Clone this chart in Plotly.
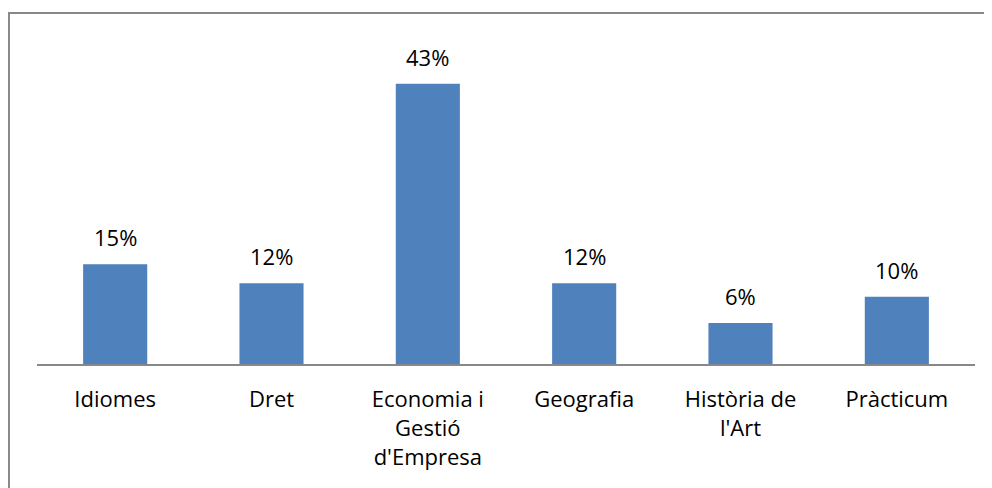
import plotly.graph_objects as go

categories = ["Idiomes", "Dret", "Economia i<br>Gestió<br>d'Empresa", "Geografia", "Història de<br>l'Art", "Pràcticum"]
shares = [0.153, 0.124, 0.43, 0.124, 0.063, 0.103]

BAR = "#4F81BD"
FONT = "'Open Sans', sans-serif"
FS = 22

fig = go.Figure(go.Bar(
    x=categories, y=shares,
    marker=dict(color=BAR, line=dict(width=0)),
    hoverinfo="x+y",
))

annotations = [
    dict(x=c, y=v, xref="x", yref="y", text=f"{round(v * 100)}%",
         showarrow=False, yanchor="bottom", yshift=10,
         font=dict(family=FONT, size=FS, color="#000000"))
    for c, v in zip(categories, shares)
]

fig.update_layout(
    width=992, height=488,
    margin=dict(l=29, r=25, t=30, b=132),
    paper_bgcolor="white", plot_bgcolor="white",
    bargap=0.59, showlegend=False,
    font=dict(family=FONT, size=FS, color="#000000"),
    xaxis=dict(showgrid=False, showline=True, linecolor="#888888", linewidth=2,
               ticks="", ticklabelstandoff=15, tickfont=dict(size=FS, family=FONT)),
    yaxis=dict(range=[0, 0.5], visible=False, showgrid=False),
    annotations=annotations,
    shapes=[dict(type="rect", xref="paper", yref="paper",
                 x0=-0.0299, x1=1.1, y0=-0.5, y1=1.0767,
                 line=dict(color="#888888", width=2), fillcolor="rgba(0,0,0,0)")],
)

fig.write_html("out.html")
